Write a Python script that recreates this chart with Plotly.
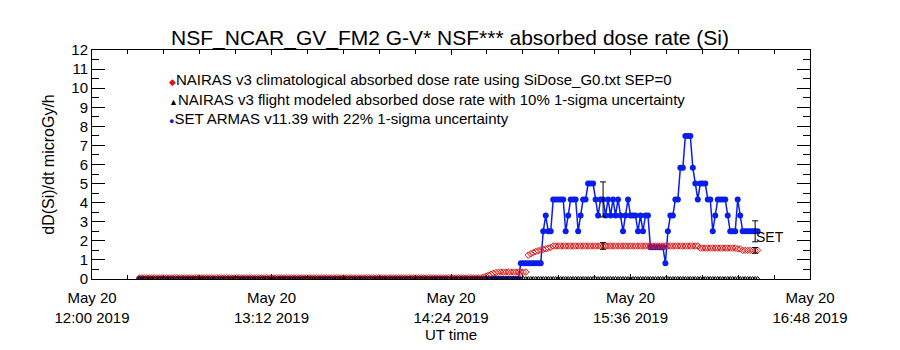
import pandas as pd
import plotly.graph_objects as go

# ---------------- data (minutes after 2019-05-20 12:00 UT) ----------------
start_minute = 19
end_minute = 267
minutes = list(range(start_minute, end_minute + 1))

# NAIRAS v3 climatological absorbed dose rate (red diamonds)
nairas_clim = (
    [0.06] * 138
    + [0.1, 0.15, 0.2, 0.25, 0.3, 0.33, 0.35]
    + [0.36] * 11
    + [1.25, 1.32, 1.38, 1.44, 1.48, 1.52, 1.55, 1.58, 1.62, 1.66]
    + [1.73] * 59
    + [1.62] * 15
    + [1.58, 1.58]
    + [1.5] * 7
)

# NAIRAS v3 flight modeled absorbed dose rate (black triangles)
nairas_flight = [0.0] * len(minutes)

# SET ARMAS v11.39 (blue)
set_armas = (
    [0.0] * 153
    + [0.83] * 9
    + [2.5, 3.33, 2.5, 2.5]
    + [4.17] * 5
    + [2.5, 3.33]
    + [4.17] * 3
    + [2.5, 3.33]
    + [4.17] * 2
    + [5.0] * 3
    + [4.17, 3.33, 4.17, 4.17]
    + [3.33, 4.17, 3.33, 4.17, 3.33, 4.17, 3.33]
    + [2.5, 3.33, 4.17]
    + [3.33] * 3
    + [2.5, 3.33, 2.5]
    + [3.33] * 2
    + [1.67] * 6
    + [0.83, 2.5]
    + [3.33] * 2
    + [4.17] * 2
    + [5.83] * 2
    + [7.5] * 3
    + [5.83, 5.0, 4.17]
    + [5.0] * 3
    + [4.17] * 2
    + [2.5, 3.33]
    + [4.17] * 4
    + [3.33]
    + [2.5] * 3
    + [4.17, 3.33]
    + [2.5] * 7
)

# error bar samples
err_minutes = [205, 266]
set_err_values = [4.17, 2.5]
set_err_frac = 0.22
nairas_err_values = [1.73, 1.5]
nairas_err_frac = 0.10

# axis ticks
tick_minutes = [0, 72, 144, 216, 288]
tick_labels = ["May 20<br>12:00 2019", "May 20<br>13:12 2019", "May 20<br>14:24 2019",
               "May 20<br>15:36 2019", "May 20<br>16:48 2019"]
y_ticks = list(range(0, 13))

base = pd.Timestamp("2019-05-20 12:00:00")


def to_time(mins):
    return [base + pd.Timedelta(minutes=m) for m in mins]


t = to_time(minutes)
t_err = to_time(err_minutes)
t_ticks = to_time(tick_minutes)

FONT = "Liberation Sans"
BLUE = "rgb(10,30,235)"
RED = "rgb(225,20,20)"

fig = go.Figure()

fig.add_trace(go.Scatter(
    x=t, y=set_armas, mode="lines+markers",
    line=dict(color=BLUE, width=1.5),
    marker=dict(symbol="circle", size=6, color=BLUE),
    showlegend=False, cliponaxis=True))

fig.add_trace(go.Scatter(
    x=t, y=nairas_clim, mode="markers",
    marker=dict(symbol="diamond-open", size=5, color=RED,
                line=dict(width=1, color=RED)),
    showlegend=False, cliponaxis=True))

fig.add_trace(go.Scatter(
    x=t, y=nairas_flight, mode="markers",
    marker=dict(symbol="triangle-up-open", size=5, color="black",
                line=dict(width=1, color="black")),
    showlegend=False, cliponaxis=True))

fig.add_trace(go.Scatter(
    x=t_err, y=set_err_values, mode="markers",
    marker=dict(size=0.1, color="rgba(0,0,0,0)"),
    error_y=dict(type="percent", value=set_err_frac * 100, color="black",
                 thickness=1, width=3),
    showlegend=False))

fig.add_trace(go.Scatter(
    x=t_err, y=nairas_err_values, mode="markers",
    marker=dict(size=0.1, color="rgba(0,0,0,0)"),
    error_y=dict(type="percent", value=nairas_err_frac * 100, color="black",
                 thickness=1, width=3),
    showlegend=False))

# legend as text
legend_rows = [
    ("<span style='color:rgb(225,20,20);font-size:9px'>◆</span>NAIRAS v3 climatological absorbed dose rate using SiDose_G0.txt SEP=0", 0.873),
    ("<span style='font-size:9px'>▲</span>NAIRAS v3 flight modeled absorbed dose rate with 10% 1-sigma uncertainty", 0.782),
    ("<span style='color:rgb(10,30,235);font-size:9px'>●</span>SET ARMAS v11.39 with 22% 1-sigma uncertainty", 0.699),
]
for txt, yy in legend_rows:
    fig.add_annotation(x=0.104, y=yy, xref="paper", yref="paper", text=txt,
                       showarrow=False, xanchor="left", yanchor="middle",
                       font=dict(family=FONT, size=15, color="black"))

fig.add_annotation(x=t_err[-1], y=2.22, text="SET", showarrow=False,
                   xanchor="left", yanchor="middle", xshift=-1,
                   font=dict(family=FONT, size=14, color="black"))

fig.update_layout(
    width=900, height=350,
    margin=dict(l=92, r=90, t=50, b=71),
    paper_bgcolor="white", plot_bgcolor="white",
    font=dict(family=FONT, color="black", size=14),
    title=dict(text="NSF_NCAR_GV_FM2 G-V* NSF*** absorbed dose rate (Si)",
               x=0.5, xanchor="center", y=1 - 38 / 350, yanchor="middle",
               font=dict(family=FONT, size=21, color="black")),
)

fig.update_xaxes(
    type="date", range=[t_ticks[0], t_ticks[-1]],
    tickvals=t_ticks, ticktext=tick_labels,
    ticks="inside", ticklen=5, tickcolor="black", tickwidth=1,
    minor=dict(ticks="inside", ticklen=4, dtick=864000, tickcolor="black", tickwidth=1),
    showline=True, linecolor="black", linewidth=1, mirror="ticks",
    showgrid=False, zeroline=False, automargin=False,
    ticklabelstandoff=5,
    tickfont=dict(family=FONT, size=15, color="black"),
    title=dict(text="UT time", font=dict(family=FONT, size=15, color="black"), standoff=0),
)
fig.update_yaxes(
    range=[0, 12], tickvals=y_ticks,
    ticks="inside", ticklen=13, tickcolor="black", tickwidth=1,
    minor=dict(ticks="inside", ticklen=7, dtick=0.5, tickcolor="black", tickwidth=1),
    showline=True, linecolor="black", linewidth=1, mirror="ticks",
    showgrid=False, zeroline=False, automargin=False,
    tickfont=dict(family=FONT, size=15, color="black"),
    title=dict(text="dD(Si)/dt microGy/h", font=dict(family=FONT, size=16, color="black"), standoff=12),
)

fig.write_html("out.html")
